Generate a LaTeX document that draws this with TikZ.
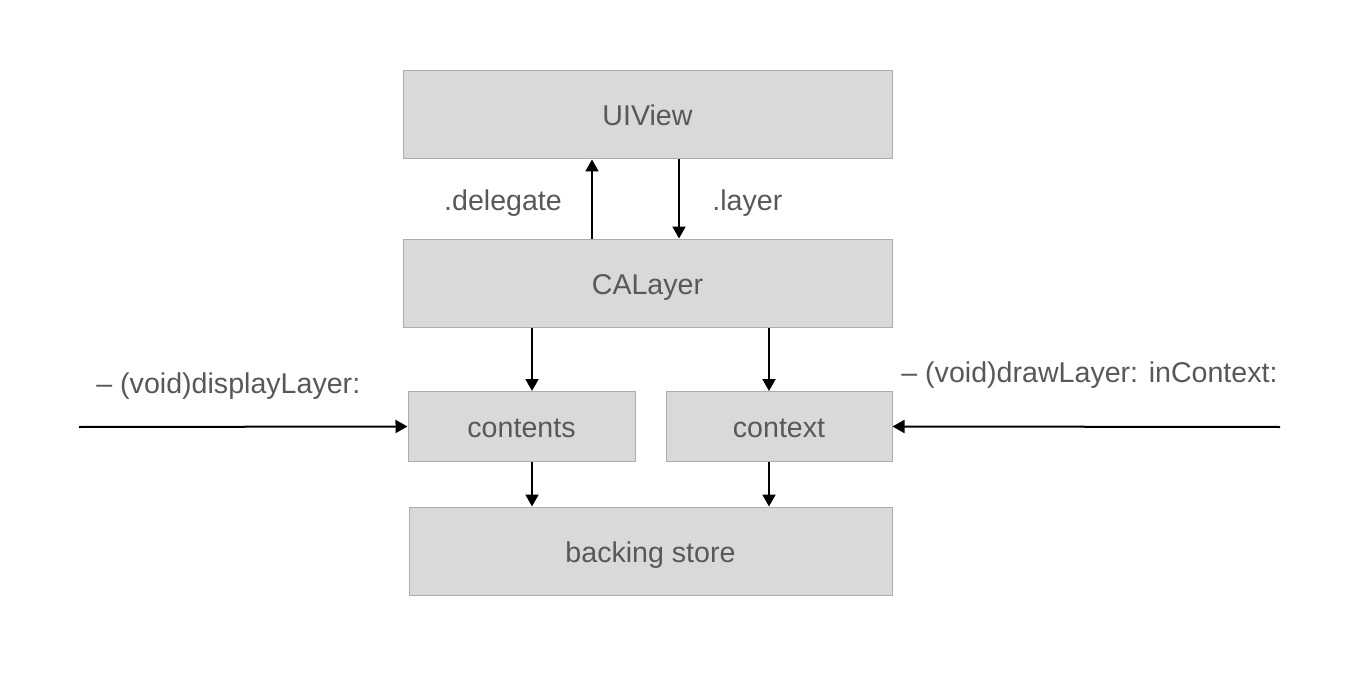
\documentclass[tikz,border=0pt]{standalone}
\usepackage{fontspec}
\setmainfont{Liberation Sans}
\usepackage{xcolor}
\usepackage{tikz}
\usetikzlibrary{arrows.meta, positioning, calc}

\definecolor{boxfill}{HTML}{D9D9D9}
\definecolor{boxline}{HTML}{ADADAD}
\definecolor{txtgray}{HTML}{585858}

\begin{document}
\begin{tikzpicture}[
        x=0.5pt, y=-0.5pt,
        font=\fontsize{14.3pt}{16pt}\selectfont,
        layerbox/.style={rectangle, draw=boxline, line width=0.5pt, fill=boxfill, text=txtgray, inner sep=0pt, text height=11pt, text depth=0pt},
        arr/.style={-{Triangle[length=6pt, width=6.5pt]}, line width=1pt, black},
        lbl/.style={text=txtgray, inner sep=0pt}
    ]
        \useasboundingbox (0,0) rectangle (1366,674);

        \node[layerbox, minimum width=244.5pt, minimum height=44pt] (uiview) at (647.5,115) {UIView};
        \node[layerbox, minimum width=244.5pt, minimum height=44pt] (calayer) at (647.5,283) {CALayer};
        \node[layerbox, minimum width=113.5pt, minimum height=35pt] (contents) at (521.5,426.5) {contents};
        \node[layerbox, minimum width=113pt, minimum height=35pt] (context) at (779,426.5) {context};
        \node[layerbox, minimum width=241.5pt, minimum height=44pt] (backing) at (650.5,551) {backing store};

        % UIView <-> CALayer
        \draw[arr] ([xshift=-27.75pt]calayer.north) -- ([xshift=-27.75pt]uiview.south);
        \draw[arr] ([xshift=15.75pt]uiview.south) -- ([xshift=15.75pt]calayer.north);
        \node[lbl, anchor=base] (delegatelbl) at (503,210) {.delegate};
        \node[lbl, anchor=base west] (layerlbl) at (712,210) {.layer};

        % CALayer -> contents / context -> backing store
        \draw[arr] ([xshift=-57.75pt]calayer.south) -- ([xshift=-57.75pt]calayer.south |- contents.north);
        \draw[arr] ([xshift=60.75pt]calayer.south) -- ([xshift=60.75pt]calayer.south |- context.north);
        \draw[arr] ([xshift=5.25pt]contents.south) -- ([xshift=5.25pt]contents.south |- backing.north);
        \draw[arr] ([xshift=-5pt]context.south) -- ([xshift=-5pt]context.south |- backing.north);

        % delegate methods
        \coordinate (displayin) at (79,427);
        \coordinate (drawin) at (1280,427);
        \draw[arr] (displayin) -- (contents.west);
        \draw[arr] (drawin) -- (context.east);
        \node[lbl, anchor=base west] (displaylbl) at (96,393) {– (void)displayLayer:};
        \node[lbl, anchor=base east] (drawlbl) at (1278,382) {– (void)drawLayer: inContext:};
    \end{tikzpicture}
\end{document}
